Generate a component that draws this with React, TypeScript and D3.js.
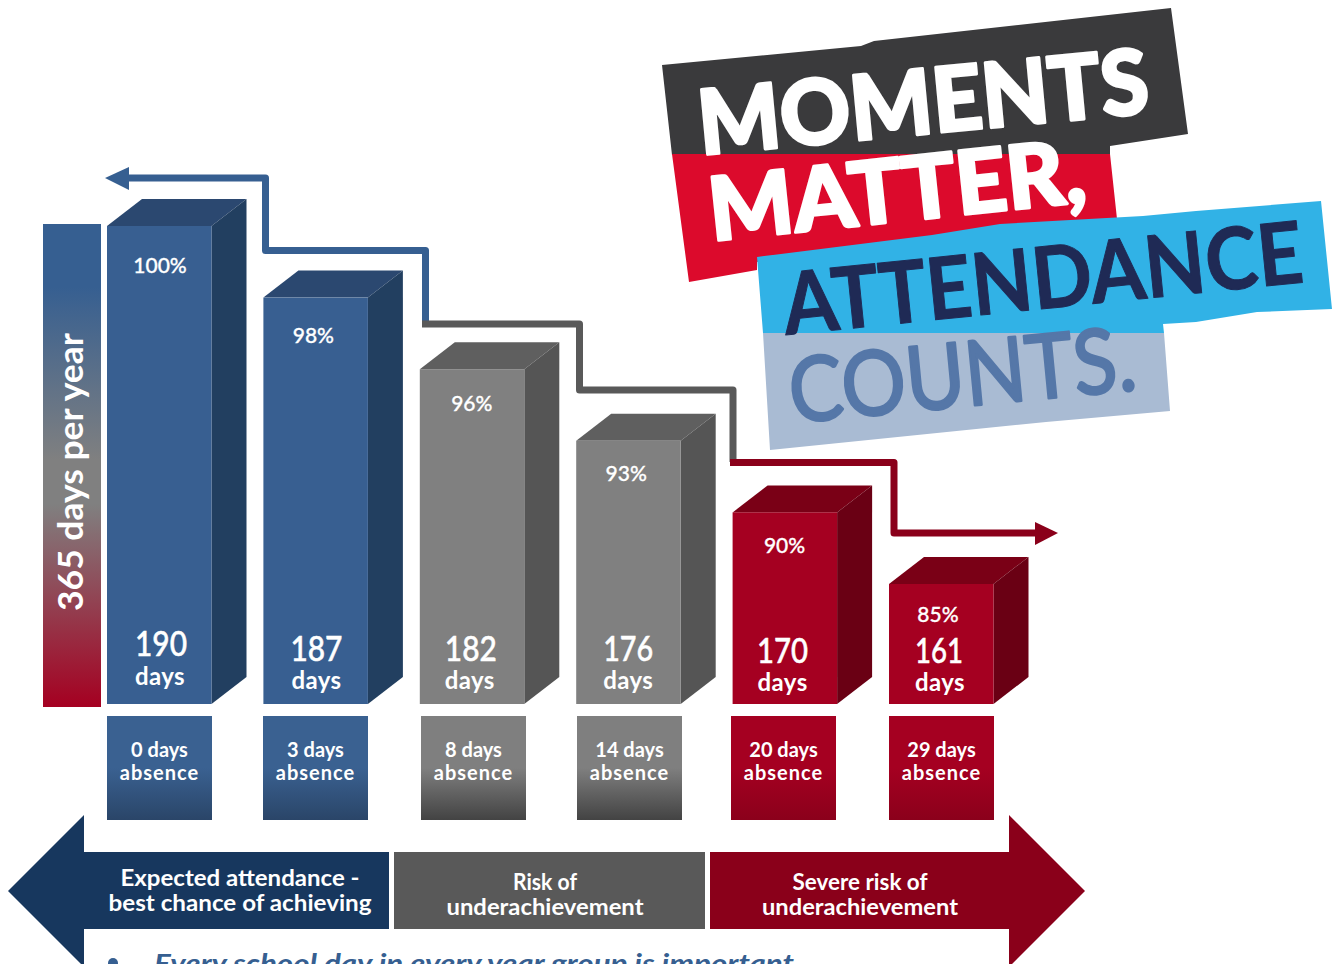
import React from "react";
import * as d3 from "d3";

const attendance = ["100%", "98%", "96%", "93%", "90%", "85%"];
const schoolDays = [190, 187, 182, 176, 170, 161];
const absenceDays = [0, 3, 8, 14, 20, 29];
const riskGroup = ["good", "good", "risk", "risk", "severe", "severe"];
const bandLabels = [
  ["Expected attendance -", "best chance of achieving"],
  ["Risk of", "underachievement"],
  ["Severe risk of", "underachievement"],
];
const axisLabel = "365 days per year";
const footnote = "Every school day in every year group is important";
const logoLines = ["MOMENTS", "MATTER,", "ATTENDANCE", "COUNTS."];

const W = 1338, H = 964;
const FONT = "Lato, 'Open Sans', sans-serif";
const palette: Record<string, any> = {
  good: { front: "#385f91", side: "#223f60", top: "#2b4870", b0: "#3a6191", b1: "#2a4568", line: "#365f91" },
  risk: { front: "#808080", side: "#555555", top: "#5f5f5f", b0: "#7f7f7f", b1: "#434343", line: "#595959" },
  severe: { front: "#a50021", side: "#6a0014", top: "#7a0016", b0: "#a50021", b1: "#8b001b", line: "#8a001a" },
};

const xBar = d3.scalePoint<number>().domain(d3.range(6)).range([107, 889]);
const yTop = d3.scalePoint<number>().domain(schoolDays).range([226, 584]);
const BAR_W = 104.5, DX = 35, DY = 27, BASE = 704;
const boxX = [107, 263, 421, 577, 731, 889];
const pctDY = [40, 38, 35, 33, 34, 31];
const pctDX = [53, 50, 52, 50, 52, 49];
const numY = [644, 649, 649, 649, 651, 651];
const numDX = [54, 53, 51, 52, 50, 50];
const numLen = [52, 52, 52, 50, 51, 48];
const daysY = [677, 681, 681, 681, 683, 683];
const daysDX = [53, 53, 50, 52, 50, 51];

const ln = d3.line();
const poly = (p: [number, number][]) => ln(p) + "Z";

const connector: [string, [number, number][]][] = [
  ["good", [[125, 178], [265.5, 178], [265.5, 250.5], [425.5, 250.5], [425.5, 324]]],
  ["risk", [[422, 324], [579.5, 324], [579.5, 390], [733, 390], [733, 462]]],
  ["severe", [[730, 462.5], [894, 462.5], [894, 533], [1038, 533]]],
];

const logoShapes: [string, [number, number][]][] = [
  ["#3a3a3c", [[662, 65], [861, 46], [874, 41], [1171, 8], [1188, 134], [1110, 146], [1110, 155], [672, 155]]],
  ["#dc0a2c", [[672, 154], [1110, 154], [1117, 219], [930, 240], [757, 262], [757, 270], [689, 282]]],
  ["#31b2e6", [[757, 257], [932, 235], [1000, 224], [1143, 216], [1196, 211], [1321, 201], [1332, 309], [1257, 312], [1196, 322], [1163, 324], [1164, 333], [763, 333]]],
  ["#a9bbd3", [[763, 333], [1164, 333], [1170, 411], [1046, 422], [770, 450]]],
];

const logoText = [
  { t: logoLines[0], x: 701, y: 155, r: -5.4, size: 90, len: 452, fill: "#fff", w: 900, sw: 3 },
  { t: logoLines[1], x: 712, y: 241, r: -6, size: 88, len: 378, fill: "#fff", w: 900, sw: 3 },
  { t: logoLines[2], x: 786, y: 335, r: -5.8, size: 86, len: 522, fill: "#1f2a55", w: 700, sw: 1 },
  { t: logoLines[3], x: 792, y: 423, r: -5.5, size: 90, len: 348, fill: "#5577a8", w: 400, sw: 2.5 },
];

const bandCx = [240, 545, 860];
const bandLen = [[239, 263], [64, 197], [135, 196]];
const bandY = [[886, 911], [890, 915], [890, 915]];

export default function App() {
  return (
    <svg width={W} height={H} viewBox={`0 0 ${W} ${H}`}
      style={{ position: "absolute", left: 0, top: 0, display: "block", fontFamily: FONT }}>
      <defs>
        <linearGradient id="axisGrad" x1="0" x2="0" y1="0" y2="1">
          <stop offset="0.13" stopColor="#365f91" />
          <stop offset="0.49" stopColor="#808080" />
          <stop offset="0.58" stopColor="#808080" />
          <stop offset="1" stopColor="#a50021" />
        </linearGradient>
        {Object.entries(palette).map(([k, c]) => (
          <linearGradient key={k} id={`box-${k}`} x1="0" x2="0" y1="0" y2="1">
            <stop offset="0.5" stopColor={c.b0} />
            <stop offset="1" stopColor={c.b1} />
          </linearGradient>
        ))}
      </defs>

      {/* logo */}
      {logoShapes.map(([f, p], i) => <path key={i} d={poly(p)} fill={f} />)}
      {logoText.map((l, i) => (
        <text key={i} transform={`translate(${l.x},${l.y}) rotate(${l.r})`} fontSize={l.size} fontWeight={l.w}
          fill={l.fill} stroke={l.fill} strokeWidth={l.sw} strokeLinejoin="round"
          textLength={l.len} lengthAdjust="spacingAndGlyphs">{l.t}</text>
      ))}

      {/* axis bar */}
      <rect x={43} y={224} width={58} height={483} fill="url(#axisGrad)" />
      <text transform="translate(83,472) rotate(-90)" textAnchor="middle" fill="#fff" fontSize={35} fontWeight={700}
        textLength={278} lengthAdjust="spacingAndGlyphs">{axisLabel}</text>

      {/* connector */}
      {connector.map(([k, p]) => (
        <path key={k} d={ln(p)!} fill="none" stroke={palette[k].line} strokeWidth={7} strokeLinejoin="round" />
      ))}
      <path d={poly([[105, 178], [129, 167], [129, 190]])} fill={palette.good.line} />
      <path d={poly([[1058, 533], [1035, 522], [1035, 545]])} fill={palette.severe.line} />

      {/* bars */}
      {schoolDays.map((d, i) => {
        const c = palette[riskGroup[i]];
        const x0 = xBar(i)!, x1 = x0 + BAR_W, y = yTop(d)!;
        return (
          <g key={i}>
            <path d={poly([[x0, y], [x0 + DX, y - DY], [x1 + DX, y - DY], [x1, y]])} fill={c.top} />
            <path d={poly([[x1, y], [x1 + DX, y - DY], [x1 + DX, BASE - DY], [x1, BASE]])} fill={c.side} />
            <rect x={x0} y={y} width={BAR_W} height={BASE - y} fill={c.front} />
            <text x={x0 + pctDX[i]} y={y + pctDY[i] + 7} textAnchor="middle" fill="#fff" fontSize={21} fontWeight={500}
              stroke="#fff" strokeWidth={0.3}>{attendance[i]}</text>
            <text x={x0 + numDX[i]} y={numY[i] + 12} textAnchor="middle" fill="#fff" fontSize={34} fontWeight={500}
              stroke="#fff" strokeWidth={0.5} textLength={numLen[i]} lengthAdjust="spacingAndGlyphs">{d}</text>
            <text x={x0 + daysDX[i]} y={daysY[i] + 8} textAnchor="middle" fill="#fff" fontSize={24} fontWeight={700}
              letterSpacing={0.4}>days</text>
          </g>
        );
      })}

      {/* absence boxes */}
      {absenceDays.map((a, i) => {
        const k = riskGroup[i];
        const cx = boxX[i] + 52.5;
        return (
          <g key={i}>
            <rect x={boxX[i]} y={716} width={105} height={104} fill={`url(#box-${k})`} />
            <text x={cx} y={757} textAnchor="middle" fill="#fff" fontSize={20} fontWeight={700}>{a} days</text>
            <text x={cx} y={780} textAnchor="middle" fill="#fff" fontSize={20} fontWeight={700} letterSpacing={1}>absence</text>
          </g>
        );
      })}

      {/* bottom bands */}
      <path d={poly([[8, 891], [84, 815], [84, 852], [389, 852], [389, 929], [84, 929], [84, 967]])} fill="#17375e" />
      <rect x={394} y={852} width={311} height={77} fill="#595959" />
      <path d={poly([[710, 852], [1009, 852], [1009, 815], [1085, 891], [1009, 967], [1009, 929], [710, 929]])} fill="#8a001a" />
      {bandLabels.map((lines, i) => lines.map((t, j) => (
        <text key={`${i}-${j}`} x={bandCx[i]} y={bandY[i][j]} textAnchor="middle" fill="#fff" fontSize={23} fontWeight={700}
          textLength={bandLen[i][j]} lengthAdjust="spacingAndGlyphs">{t}</text>
      )))}

      {/* clipped footnote */}
      <circle cx={113} cy={963} r={5} fill="#365f91" />
      <text x={154} y={973} fill="#365f91" fontSize={26} fontWeight={700} fontStyle="italic"
        textLength={640} lengthAdjust="spacingAndGlyphs">{footnote}</text>
    </svg>
  );
}
